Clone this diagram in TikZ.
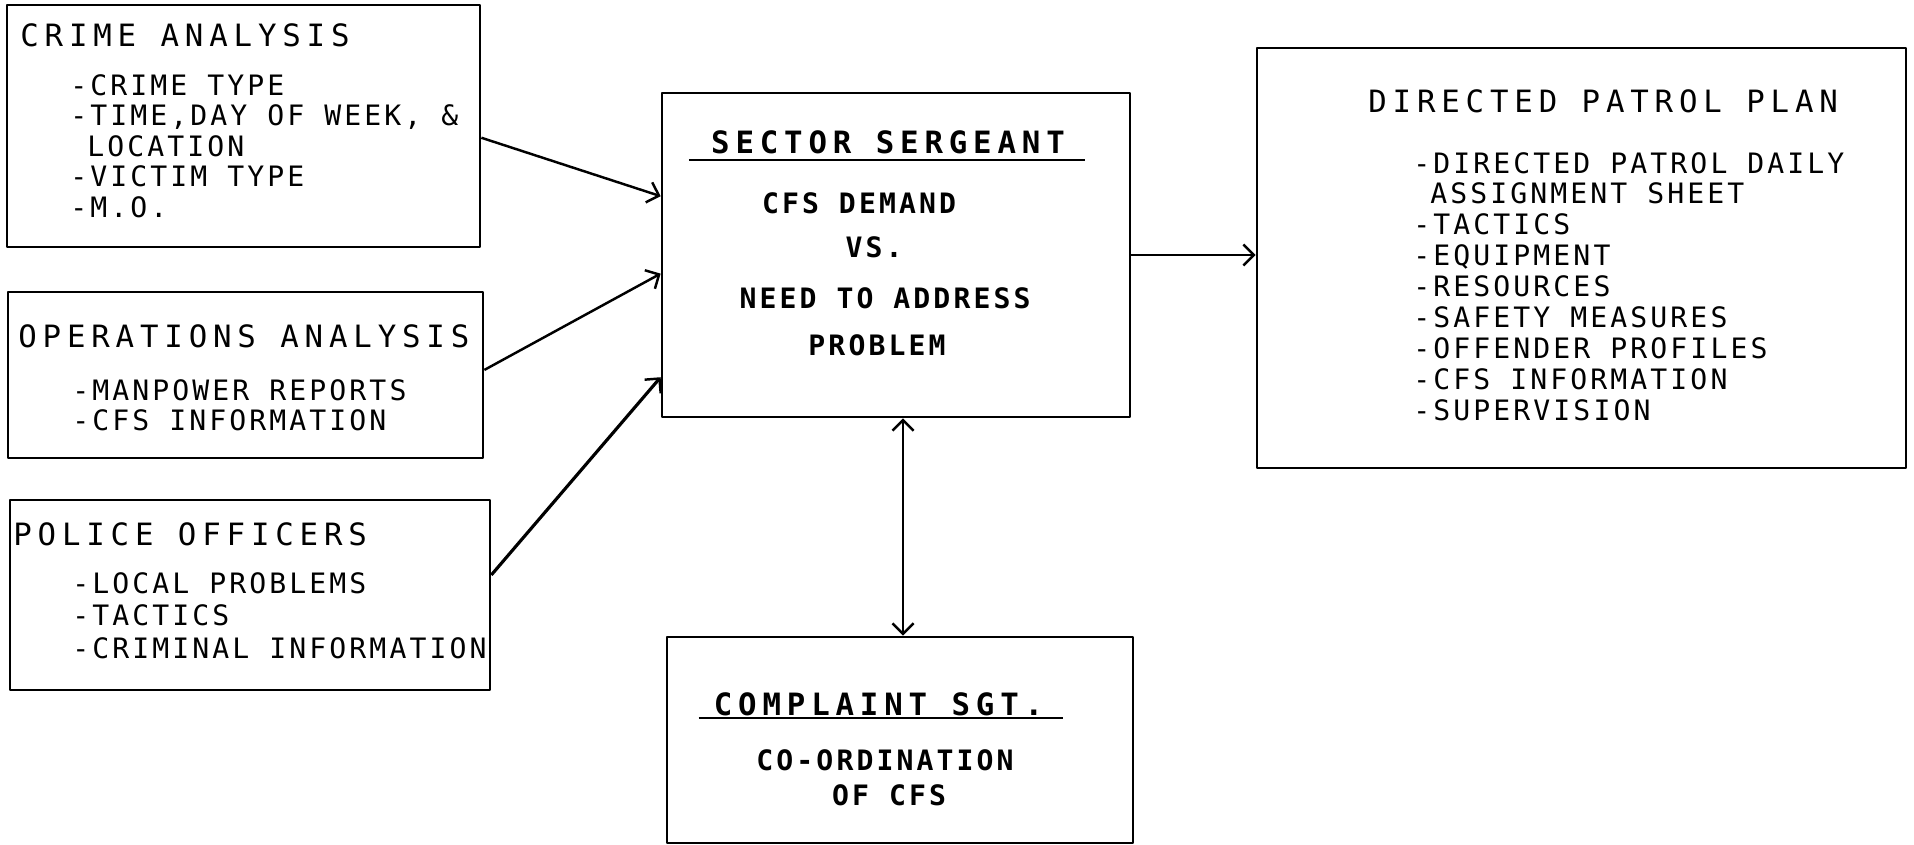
\documentclass[tikz,border=0pt]{standalone}
\usepackage{fontspec}
\usetikzlibrary{arrows.meta,calc}
\newfontfamily\dotfont[LetterSpace=11]{DejaVu Sans Mono}
\newfontfamily\dothead[LetterSpace=19]{DejaVu Sans Mono}

\tikzset{
  box/.style={draw,line width=1.6pt,inner sep=0pt},
  head/.style={font=\dothead\fontsize{17.5}{20}\selectfont,anchor=base west,inner sep=0pt},
  item/.style={font=\dotfont\fontsize{16}{19}\selectfont,anchor=base west,inner sep=0pt},
  bhead/.style={font=\dothead\bfseries\fontsize{17.5}{20}\selectfont,anchor=base,inner sep=0pt},
  bitem/.style={font=\dotfont\bfseries\fontsize{16}{19}\selectfont,anchor=base,inner sep=0pt},
  barb/.tip={Straight Barb[length=6pt,width=12pt,line width=1.4pt]},
  link/.style={line width=1.4pt,-barb},
}

\begin{document}
\begin{tikzpicture}[x=0.02cm,y=-0.02cm,line join=round]
  \useasboundingbox (0,0) rectangle (1914,845);
  % boxes
  \node[box,minimum width=9.46cm,minimum height=4.84cm] (crime) at (243.5,126) {};
  \node[box,minimum width=9.5cm,minimum height=3.32cm] (ops) at (245.5,375) {};
  \node[box,minimum width=9.6cm,minimum height=3.8cm] (police) at (250,595) {};
  \node[box,minimum width=9.36cm,minimum height=6.48cm] (sector) at (896,255) {};
  \node[box,minimum width=12.98cm,minimum height=8.4cm] (plan) at (1581.5,258) {};
  \node[box,minimum width=9.32cm,minimum height=4.12cm] (complaint) at (900,740) {};

  % inputs on the left
  \node[head] (crimeT) at (20,47) {CRIME ANALYSIS};
  \foreach \t [count=\i] in {-CRIME TYPE,{-TIME,DAY OF WEEK, \&},\phantom{-}LOCATION,-VICTIM TYPE,-M.O.}
    \node[item] (crime\i) at (70,{95+30.5*(\i-1)}) {\t};
  \node[head] (opsT) at (18,347) {OPERATIONS ANALYSIS};
  \foreach \t [count=\i] in {-MANPOWER REPORTS,-CFS INFORMATION}
    \node[item] (ops\i) at (72,{400+30*(\i-1)}) {\t};
  \node[head] (policeT) at (13,545) {POLICE OFFICERS};
  \foreach \t [count=\i] in {-LOCAL PROBLEMS,-TACTICS,-CRIMINAL INFORMATION}
    \node[item] (police\i) at (72,{593+32.5*(\i-1)}) {\t};

  % sector sergeant
  \node[bhead] (sectorT) at (888,153) {SECTOR SERGEANT};
  \draw[line width=1.6pt] ($(sectorT.base west)+(-22,7)$) -- ($(sectorT.base east)+(20,7)$);
  \node[bitem] (sector1) at (859,213) {CFS DEMAND};
  \node[bitem] (sector2) at (874,257) {VS.};
  \node[bitem] (sector3) at (885,308) {NEED TO ADDRESS};
  \node[bitem] (sector4) at (877,355) {PROBLEM};

  % complaint sgt.
  \node[bhead] (complaintT) at (878.5,715) {COMPLAINT SGT.};
  \draw[line width=1.6pt] ($(complaintT.base west)+(-15,3)$) -- ($(complaintT.base east)+(20,3)$);
  \node[bitem] (complaint1) at (885,770) {CO-ORDINATION};
  \node[bitem] (complaint2) at (889,805) {OF CFS};

  % directed patrol plan
  \node[head] (planT) at (1368,112) {DIRECTED PATROL PLAN};
  \foreach \t [count=\i] in {-DIRECTED PATROL DAILY,\phantom{-}ASSIGNMENT SHEET,-TACTICS,-EQUIPMENT,-RESOURCES,-SAFETY MEASURES,-OFFENDER PROFILES,-CFS INFORMATION,-SUPERVISION}
    \node[item] (plan\i) at (1413,{173+30.9*(\i-1)}) {\t};

  % connectors
  \draw[link] ($(crime.north east)!.548!(crime.south east)$) -- ($(sector.north west)!.32!(sector.south west)$);
  \draw[link] ($(ops.north east)!.47!(ops.south east)$) -- ($(sector.north west)!.557!(sector.south west)$);
  \draw[link,line width=1.8pt] ($(police.north east)!.396!(police.south east)$) -- ($(sector.north west)!.874!(sector.south west)$);
  \draw[link] (sector.east) -- (sector.east -| plan.west);
  \coordinate (down) at ($(sector.south west)!.515!(sector.south east)$);
  \draw[link,barb-barb] (down) -- (down |- complaint.north);
\end{tikzpicture}
\end{document}
